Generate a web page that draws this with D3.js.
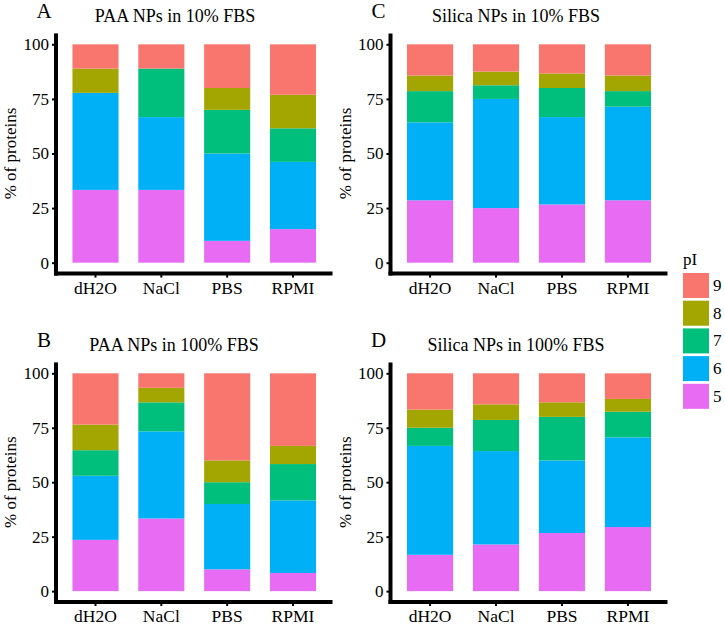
<!DOCTYPE html>
<html>
<head>
<meta charset="utf-8">
<script src="https://cdn.jsdelivr.net/npm/d3@7"></script>
<style>
  html, body { margin: 0; padding: 0; background: #fff; }
  svg { display: block; }
  svg text { font-family: "Liberation Serif", "DejaVu Serif", "Noto Serif", "Times New Roman", Times, serif !important; fill: #000; }
</style>
</head>
<body>
<svg id="chart" width="725" height="625"></svg>
<script>
// ---- data ----
const categories = ["dH2O", "NaCl", "PBS", "RPMI"];
const pILevels = ["5", "6", "7", "8", "9"];
const pIColors = ["#E76BF3", "#00B0F6", "#00BF7D", "#A3A500", "#F8766D"];
const yTicks = [0, 25, 50, 75, 100];

// rows: one per category, values for pI 5,6,7,8,9 (% of proteins)
const paa10 = [
  [33.33, 44.44, 0, 11.11, 11.11],
  [33.33, 33.33, 22.22, 0, 11.11],
  [10, 40, 20, 10, 20],
  [15.38, 30.77, 15.38, 15.38, 23.08]
];
const paa100 = [
  [23.53, 29.41, 11.76, 11.76, 23.53],
  [33.33, 40, 13.33, 6.67, 6.67],
  [10, 30, 10, 10, 40],
  [8.33, 33.33, 16.67, 8.33, 33.33]
];
const silica10 = [
  [28.57, 35.71, 14.29, 7.14, 14.29],
  [25, 50, 6.25, 6.25, 12.5],
  [26.67, 40, 13.33, 6.67, 13.33],
  [28.57, 42.86, 7.14, 7.14, 14.29]
];
const silica100 = [
  [16.67, 50, 8.33, 8.33, 16.67],
  [21.43, 42.86, 14.29, 7.14, 14.29],
  [26.67, 33.33, 20, 6.67, 13.33],
  [29.41, 41.18, 11.76, 5.88, 11.76]
];
const panelLetters = ["A", "B", "C", "D"];
const panelTitles = ["PAA NPs in 10% FBS", "PAA NPs in 100% FBS", "Silica NPs in 10% FBS", "Silica NPs in 100% FBS"];
const yLabel = "% of proteins";
const legendTitle = "pI";

// ---- layout ----
const FONT = '"Liberation Serif", "DejaVu Serif", serif';
const svg = d3.select("#chart");
const panels = [
  { data: paa10,     letter: 0, x0: 56,  x1: 332.5, yBot: 273.6, yTop: 33.4,  titleX: 175 },
  { data: paa100,    letter: 1, x0: 56,  x1: 332.5, yBot: 602.0, yTop: 362.4, titleX: 174 },
  { data: silica10,  letter: 2, x0: 390.5, x1: 667.5, yBot: 273.6, yTop: 33.4,  titleX: 516 },
  { data: silica100, letter: 3, x0: 390.5, x1: 667.5, yBot: 602.0, yTop: 362.4, titleX: 516 }
];

const color = d3.scaleOrdinal().domain(pILevels).range(pIColors);

panels.forEach(p => {
  const g = svg.append("g");
  const x = d3.scaleBand().domain(categories).range([p.x0, p.x1])
    .paddingInner(0.3).paddingOuter(0.25);
  const y = d3.scaleLinear().domain([-5, 105]).range([p.yBot, p.yTop]);

  const rows = p.data.map((r, i) => {
    const o = { cat: categories[i] };
    pILevels.forEach((k, j) => o[k] = r[j]);
    return o;
  });
  const stacked = d3.stack().keys(pILevels)(rows);

  g.selectAll("g.layer").data(stacked).join("g")
    .attr("fill", d => color(d.key))
    .selectAll("rect").data(d => d).join("rect")
    .attr("x", d => x(d.data.cat))
    .attr("width", x.bandwidth())
    .attr("y", d => y(d[1]))
    .attr("height", d => Math.max(0, y(d[0]) - y(d[1])));

  // y axis
  const yAxis = g.append("g").attr("transform", `translate(${p.x0},0)`)
    .call(d3.axisLeft(y).tickValues(yTicks).tickSize(4).tickPadding(3));
  yAxis.attr("font-family", FONT);
  yAxis.select(".domain").remove();
  yAxis.selectAll(".tick line").attr("stroke", "#000").attr("stroke-width", 2);
  yAxis.selectAll(".tick text").attr("font-size", 17).attr("fill", "#000");

  // x axis
  const xAxis = g.append("g").attr("transform", `translate(0,${p.yBot})`)
    .call(d3.axisBottom(x).tickSize(4).tickPadding(4));
  xAxis.attr("font-family", FONT);
  xAxis.select(".domain").remove();
  xAxis.selectAll(".tick line").attr("stroke", "#000").attr("stroke-width", 2);
  xAxis.selectAll(".tick text").attr("font-size", 17.5).attr("fill", "#000");

  // axis lines
  g.append("line").attr("x1", p.x0).attr("x2", p.x0)
    .attr("y1", p.yTop).attr("y2", p.yBot + 2)
    .attr("stroke", "#000").attr("stroke-width", 4);
  g.append("line").attr("x1", p.x0 - 2).attr("x2", p.x1)
    .attr("y1", p.yBot).attr("y2", p.yBot)
    .attr("stroke", "#000").attr("stroke-width", 4);

  // y label
  const ly = (p.yTop + p.yBot) / 2;
  g.append("text").attr("transform", `translate(${p.x0 - 40},${ly}) rotate(-90)`)
    .attr("text-anchor", "middle").attr("font-size", 17).attr("font-family", FONT)
    .text(yLabel);

  // title
  g.append("text").attr("x", p.titleX).attr("y", p.yTop - 11.5)
    .attr("text-anchor", "middle").attr("font-size", 18).attr("font-family", FONT)
    .text(panelTitles[p.letter]);
  // letter
  g.append("text").attr("x", p.x0 - 12).attr("y", p.yTop - 15)
    .attr("text-anchor", "middle").attr("font-size", 21).attr("font-family", FONT)
    .text(panelLetters[p.letter]);
});

// ---- legend ----
const leg = svg.append("g").attr("font-family", FONT);
leg.append("text").attr("x", 683).attr("y", 265).attr("font-size", 17).text(legendTitle);
const legKeys = pILevels.slice().reverse();
leg.selectAll("rect").data(legKeys).join("rect")
  .attr("x", 683).attr("y", (d, i) => 273 + i * 27.7)
  .attr("width", 26).attr("height", 25)
  .attr("fill", d => color(d));
leg.selectAll("text.lab").data(legKeys).join("text").attr("class", "lab")
  .attr("x", 713).attr("y", (d, i) => 273 + i * 27.7 + 12.5)
  .attr("dominant-baseline", "central").attr("font-size", 17).text(d => d);
</script>
</body>
</html>
